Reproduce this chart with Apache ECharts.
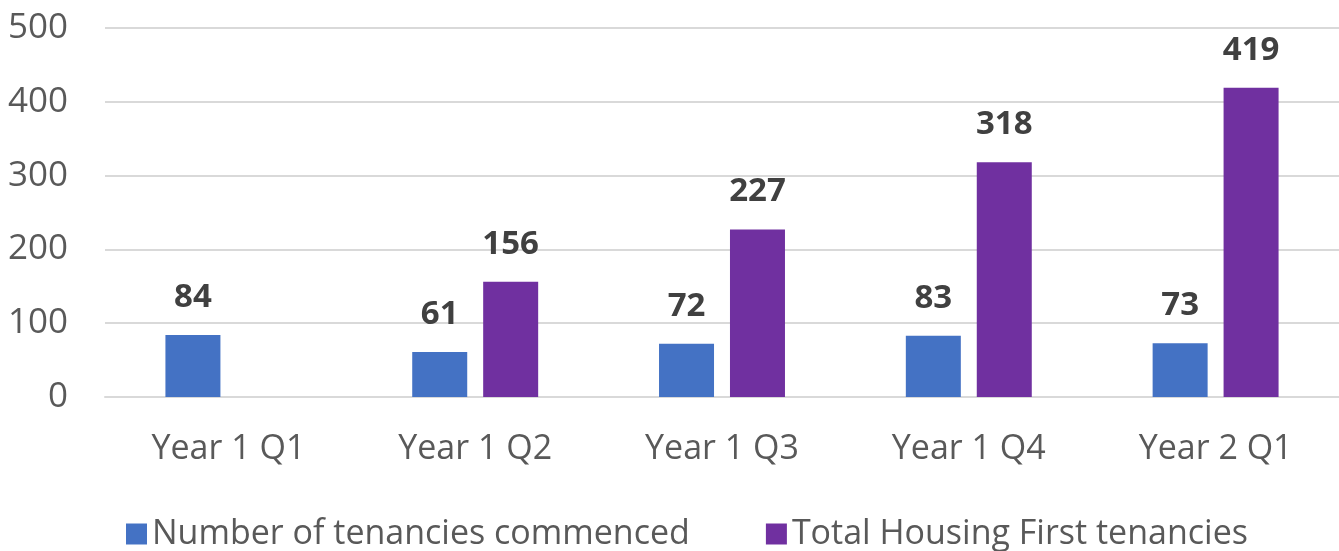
<!DOCTYPE html>
<html>
<head>
<meta charset="utf-8">
<script src="https://cdn.jsdelivr.net/npm/echarts@6/dist/echarts.min.js"></script>
<style>
	html, body { margin: 0; padding: 0; background: #fff; }
	#chart { width: 1339px; height: 551px; }
</style>
</head>
<body>
<div id="chart"></div>
<script>
// 数据
var categories = ['Year 1 Q1', 'Year 1 Q2', 'Year 1 Q3', 'Year 1 Q4', 'Year 2 Q1'];
var commenced = [84, 61, 72, 83, 73];
var totalTenancies = [null, 156, 227, 318, 419];
var seriesNames = ['Number of tenancies commenced', 'Total Housing First tenancies'];

function showBar() {
	var myChart = echarts.init(document.getElementById('chart'));
	var fontFamily = '"Open Sans", sans-serif';
	var labelStyle = {
		show: true,
		position: 'top',
		distance: 21,
		fontSize: 33,
		fontWeight: 'bold',
		color: '#404040',
		fontFamily: fontFamily
	};
	var option = {
		animation: false,
		textStyle: { fontFamily: fontFamily },
		grid: {
			left: 105,
			right: 0,
			top: 28,
			bottom: 154
		},
		legend: {
			data: seriesNames,
			left: 121,
			top: 512,
			itemWidth: 21,
			itemHeight: 21,
			itemGap: 76,
			icon: 'rect',
			textStyle: {
				fontSize: 34,
				color: '#595959',
				fontFamily: fontFamily
			}
		},
		xAxis: {
			type: 'category',
			data: categories,
			axisLine: { lineStyle: { color: '#d9d9d9', width: 2 } },
			axisTick: { show: false },
			axisLabel: {
				margin: 35,
				fontSize: 34,
				color: '#595959'
			}
		},
		yAxis: {
			type: 'value',
			min: 0,
			max: 500,
			interval: 100,
			axisLine: { show: false },
			axisTick: { show: false },
			axisLabel: {
				margin: 37,
				fontSize: 35,
				color: '#595959'
			},
			splitLine: { lineStyle: { color: '#d9d9d9', width: 2 } }
		},
		series: [{
			name: seriesNames[0],
			type: 'bar',
			data: commenced,
			barWidth: 55,
			barGap: '29%',
			itemStyle: { color: '#4472c4' },
			label: labelStyle
		}, {
			name: seriesNames[1],
			type: 'bar',
			data: totalTenancies,
			barWidth: 55,
			itemStyle: { color: '#7030a0' },
			label: labelStyle
		}]
	};
	myChart.setOption(option);
}
showBar();
</script>
</body>
</html>
